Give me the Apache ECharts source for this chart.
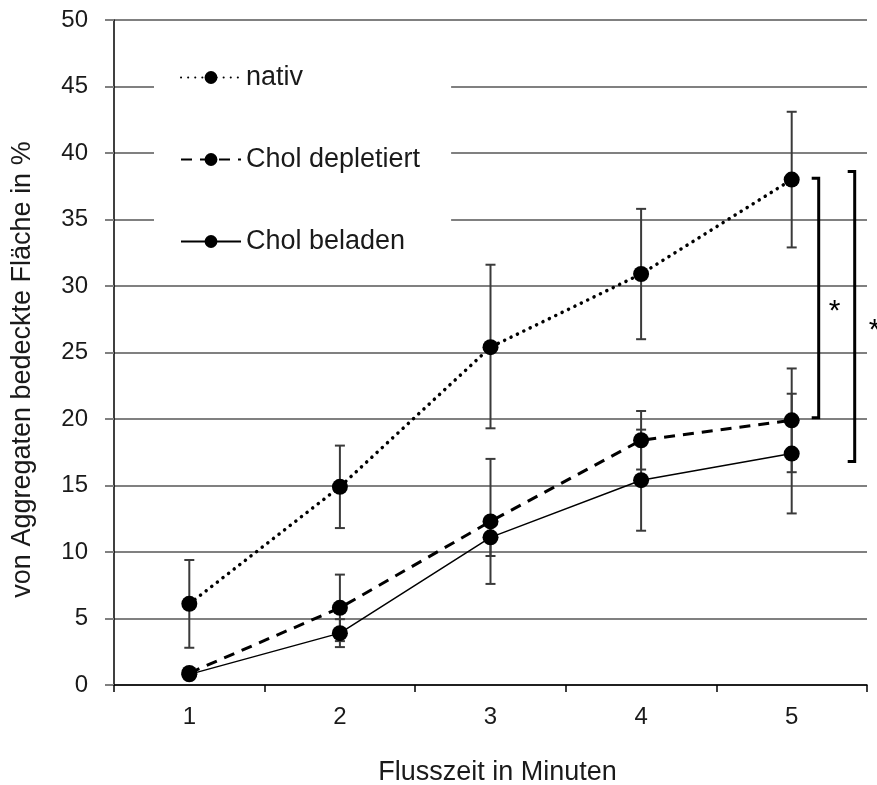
<!DOCTYPE html>
<html>
<head>
<meta charset="utf-8">
<script src="https://cdn.jsdelivr.net/npm/echarts@6/dist/echarts.min.js"></script>
<style>html,body{margin:0;padding:0;background:#fff;}#c{width:877px;height:785px;}</style>
</head>
<body>
<div id="c"></div>
<script>
const categories = ['1', '2', '3', '4', '5'];
const yTicks = { min: 0, max: 50, interval: 5 };

const nativ      = [6.1, 14.9, 25.4, 30.9, 38.0];
const nativLow   = [2.8, 11.8, 19.3, 26.0, 32.9];
const nativHigh  = [9.4, 18.0, 31.6, 35.8, 43.1];

const deplet     = [0.9, 5.8, 12.3, 18.4, 19.9];
const depletLow  = [0.9, 3.3, 7.6, 16.2, 16.0];
const depletHigh = [0.9, 8.3, 17.0, 20.6, 23.8];

const beladen     = [0.8, 3.9, 11.1, 15.4, 17.4];
const beladenLow  = [0.8, 2.85, 9.7, 11.6, 12.9];
const beladenHigh = [0.8, 4.95, 12.5, 19.2, 21.9];

const seriesNames = ['nativ', 'Chol depletiert', 'Chol beladen'];
const xName = 'Flusszeit in Minuten';
const yName = 'von Aggregaten bedeckte Fläche in %';

// significance brackets: [category, top value, bottom value, label]
const brackets = [
  ['5', 38.1, 20.1, '*'],
  ['5', 38.6, 16.8, '*']
];
const bracketStyle = [
  { dx: 27, serif: 7, starDx: 16 },
  { dx: 63, serif: 7, starDx: 20 }
];

const FONT = 'Liberation Sans';

function errData(low, high) {
  const out = [];
  for (let i = 0; i < categories.length; i++) {
    if (high[i] > low[i]) out.push([categories[i], low[i], high[i]]);
  }
  return out;
}

function errSeries(low, high) {
  return {
    type: 'custom',
    z: 1,
    silent: true,
    data: errData(low, high),
    encode: { x: 0, y: [1, 2] },
    renderItem: function (params, api) {
      const x = api.value(0);
      const lo = api.coord([x, api.value(1)]);
      const hi = api.coord([x, api.value(2)]);
      const w = 5;
      const st = { stroke: '#3a3a3a', lineWidth: 2 };
      return {
        type: 'group',
        children: [
          { type: 'line', shape: { x1: lo[0], y1: lo[1], x2: hi[0], y2: hi[1] }, style: st },
          { type: 'line', shape: { x1: lo[0] - w, y1: lo[1], x2: lo[0] + w, y2: lo[1] }, style: st },
          { type: 'line', shape: { x1: hi[0] - w, y1: hi[1], x2: hi[0] + w, y2: hi[1] }, style: st }
        ]
      };
    }
  };
}

const chart = echarts.init(document.getElementById('c'), null, { renderer: 'canvas' });

const option = {
  backgroundColor: '#fff',
  animation: false,
  textStyle: { fontFamily: FONT },
  grid: { left: 114, right: 10, top: 20, bottom: 100, containLabel: false, outerBoundsMode: 'none' },
  legend: {
    orient: 'vertical',
    left: 154,
    top: 55,
    backgroundColor: '#fff',
    padding: [9, 31, 12, 26],
    itemWidth: 60,
    itemHeight: 16,
    itemGap: 55,
    textStyle: { fontFamily: FONT, fontSize: 27, color: '#1a1a1a', lineHeight: 27 },
    data: seriesNames
  },
  xAxis: {
    type: 'category',
    data: categories,
    boundaryGap: true,
    name: xName,
    nameLocation: 'middle',
    nameGap: 74,
    nameTextStyle: { fontFamily: FONT, fontSize: 27, color: '#1a1a1a', padding: [0, 0, 0, 14] },
    axisLine: { lineStyle: { color: '#000', width: 1.5 } },
    axisTick: { show: true, length: 7, lineStyle: { color: '#000', width: 1.5 } },
    axisLabel: { fontFamily: FONT, fontSize: 24, color: '#1a1a1a', margin: 20 },
    splitLine: { show: false }
  },
  yAxis: {
    type: 'value',
    min: yTicks.min,
    max: yTicks.max,
    interval: yTicks.interval,
    name: yName,
    nameLocation: 'middle',
    nameGap: 78,
    nameRotate: 90,
    nameTextStyle: { fontFamily: FONT, fontSize: 27, color: '#1a1a1a', padding: [0, 34, 0, 0] },
    axisLine: { show: true, lineStyle: { color: '#000', width: 1.5 } },
    axisTick: { show: true, length: 9, lineStyle: { color: '#808080', width: 2 } },
    axisLabel: { fontFamily: FONT, fontSize: 24, color: '#1a1a1a', margin: 26 },
    splitLine: { show: true, lineStyle: { color: '#808080', width: 2 } }
  },
  series: [
    errSeries(nativLow, nativHigh),
    errSeries(depletLow, depletHigh),
    errSeries(beladenLow, beladenHigh),
    {
      name: seriesNames[0], type: 'line', z: 3, data: nativ,
      symbol: 'circle', symbolSize: 16,
      itemStyle: { color: '#000' },
      lineStyle: { color: '#000', width: 3.5, type: [0.1, 7], cap: 'round' }
    },
    {
      name: seriesNames[1], type: 'line', z: 3, data: deplet,
      symbol: 'circle', symbolSize: 16,
      itemStyle: { color: '#000' },
      lineStyle: { color: '#000', width: 3, type: [11, 8] }
    },
    {
      name: seriesNames[2], type: 'line', z: 3, data: beladen,
      symbol: 'circle', symbolSize: 16,
      itemStyle: { color: '#000' },
      lineStyle: { color: '#000', width: 1.5, type: 'solid' }
    },
    {
      type: 'custom',
      z: 4,
      silent: true,
      clip: false,
      data: brackets.map(function (b, i) { return [b[0], b[1], b[2], i]; }),
      encode: { x: 0, y: [1, 2] },
      renderItem: function (params, api) {
        const idx = params.dataIndex;
        const s = bracketStyle[idx];
        const top = api.coord([api.value(0), api.value(1)]);
        const bot = api.coord([api.value(0), api.value(2)]);
        const vx = top[0] + s.dx;
        const st = { stroke: '#000', lineWidth: 3, fill: null };
        const midY = (top[1] + bot[1]) / 2;
        return {
          type: 'group',
          children: [
            { type: 'polyline', shape: { points: [[vx - s.serif, top[1]], [vx, top[1]], [vx, bot[1]], [vx - s.serif, bot[1]]] }, style: st },
            { type: 'text', style: { text: brackets[idx][3], x: vx + s.starDx, y: midY + 14, align: 'center', verticalAlign: 'middle', fontFamily: FONT, fontSize: 30, fill: '#000' } }
          ]
        };
      }
    }
  ]
};
chart.setOption(option);
</script>
</body>
</html>
